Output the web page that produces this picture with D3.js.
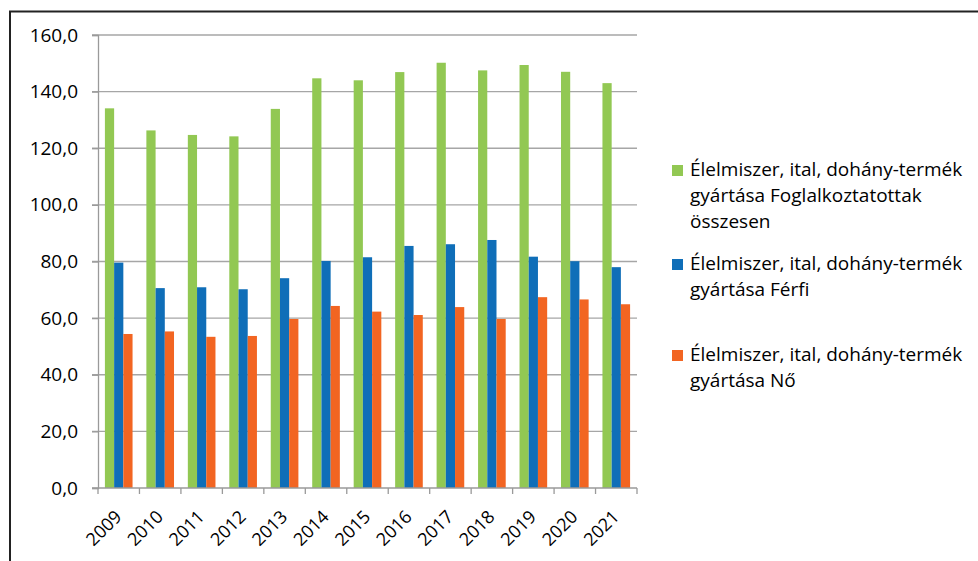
<!DOCTYPE html>
<html>
<head>
<meta charset="utf-8">
<script src="https://cdn.jsdelivr.net/npm/d3@7"></script>
<style>
  body { margin: 0; background: #fff; }
  text { font-family: "Open Sans", sans-serif; fill: #000; }
</style>
</head>
<body>
<div class="chart"></div>
<script>
const years = ['2009', '2010', '2011', '2012', '2013', '2014', '2015', '2016', '2017', '2018', '2019', '2020', '2021'];
const seriesNames = [
  ['Élelmiszer, ital, dohány-termék', 'gyártása Foglalkoztatottak', 'összesen'],
  ['Élelmiszer, ital, dohány-termék', 'gyártása Férfi'],
  ['Élelmiszer, ital, dohány-termék', 'gyártása Nő']
];
const totalValues = [134.1, 126.3, 124.7, 124.2, 133.9, 144.7, 144.0, 146.9, 150.2, 147.5, 149.4, 147.0, 143.0];
const maleValues = [79.6, 70.6, 70.9, 70.2, 74.1, 80.2, 81.5, 85.5, 86.1, 87.6, 81.7, 80.1, 78.0];
const femaleValues = [54.4, 55.3, 53.4, 53.7, 59.7, 64.3, 62.3, 61.1, 63.9, 59.7, 67.4, 66.6, 64.9];
const yTicks = [0, 20, 40, 60, 80, 100, 120, 140, 160];
const colors = ['#92c853', '#0f6eb8', '#f26522'];

const series = [totalValues, maleValues, femaleValues];
const width = 978;
const height = 561;

const svg = d3.select('.chart').append('svg')
  .attr('width', width)
  .attr('height', height);

// frame lines (top and left)
svg.append('line')
  .attr('x1', 9).attr('x2', width).attr('y1', 11.5).attr('y2', 11.5)
  .attr('stroke', '#222').attr('stroke-width', 2);
svg.append('line')
  .attr('x1', 10).attr('x2', 10).attr('y1', 11).attr('y2', height)
  .attr('stroke', '#222').attr('stroke-width', 2);

const x = d3.scaleBand().domain(years).range([98, 637]);
const y = d3.scaleLinear().domain([0, 160]).range([488, 35]);

// bars inside a band: gap width 150%
const inner = d3.scaleBand()
  .domain(d3.range(series.length))
  .range([0, x.bandwidth()])
  .paddingOuter(0.75)
  .paddingInner(0);

// gridlines
svg.append('g')
  .selectAll('line')
  .data(yTicks.slice(1))
  .enter()
  .append('line')
  .attr('x1', 92)
  .attr('x2', 637)
  .attr('y1', d => y(d))
  .attr('y2', d => y(d))
  .attr('stroke', '#a6a6a6')
  .attr('stroke-width', 1.3);

// bars
series.forEach((values, s) => {
  svg.append('g')
    .selectAll('rect')
    .data(values)
    .enter()
    .append('rect')
    .attr('x', (d, i) => x(years[i]) + inner(s))
    .attr('y', d => y(d))
    .attr('width', inner.bandwidth())
    .attr('height', d => y(0) - y(d))
    .attr('fill', colors[s]);
});

// y axis
const yAxis = svg.append('g')
  .attr('transform', 'translate(98,0)')
  .call(d3.axisLeft(y).tickValues(yTicks).tickSize(6).tickPadding(14)
    .tickFormat(d => d3.format('.1f')(d).replace('.', ',')));
yAxis.selectAll('text').style('font-size', '19px').style('font-family', '"Open Sans", sans-serif').attr('fill', '#000');
yAxis.select('.domain').attr('stroke', '#9a9a9a').attr('stroke-width', 1.3);
yAxis.selectAll('.tick line').attr('stroke', '#9a9a9a').attr('stroke-width', 1.3);

// x axis, ticks at category boundaries
const xAxis = svg.append('g').attr('transform', `translate(0,${y(0)})`);
xAxis.append('line')
  .attr('x1', 92).attr('x2', 637).attr('y1', 0).attr('y2', 0)
  .attr('stroke', '#9a9a9a').attr('stroke-width', 1.3);
xAxis.selectAll('.tick')
  .data(years.concat(['end']))
  .enter()
  .append('line')
  .attr('class', 'tick')
  .attr('x1', (d, i) => 98 + i * x.step())
  .attr('x2', (d, i) => 98 + i * x.step())
  .attr('y1', 0)
  .attr('y2', 6)
  .attr('stroke', '#9a9a9a')
  .attr('stroke-width', 1.3);
xAxis.selectAll('.label')
  .data(years)
  .enter()
  .append('text')
  .attr('class', 'label')
  .attr('text-anchor', 'end')
  .attr('transform', d => `translate(${x(d) + x.bandwidth() / 2 + 4},${30}) rotate(-45)`)
  .style('font-size', '18px')
  .text(d => d);

// legend
const legendTops = [165, 259, 350];
seriesNames.forEach((lines, s) => {
  const g = svg.append('g').attr('transform', `translate(672,${legendTops[s]})`);
  g.append('rect')
    .attr('width', 11)
    .attr('height', 11)
    .attr('fill', colors[s]);
  lines.forEach((t, k) => {
    g.append('text')
      .attr('x', 18)
      .attr('y', 11 + k * 26)
      .style('font-size', '19px')
      .text(t);
  });
});
</script>
</body>
</html>
